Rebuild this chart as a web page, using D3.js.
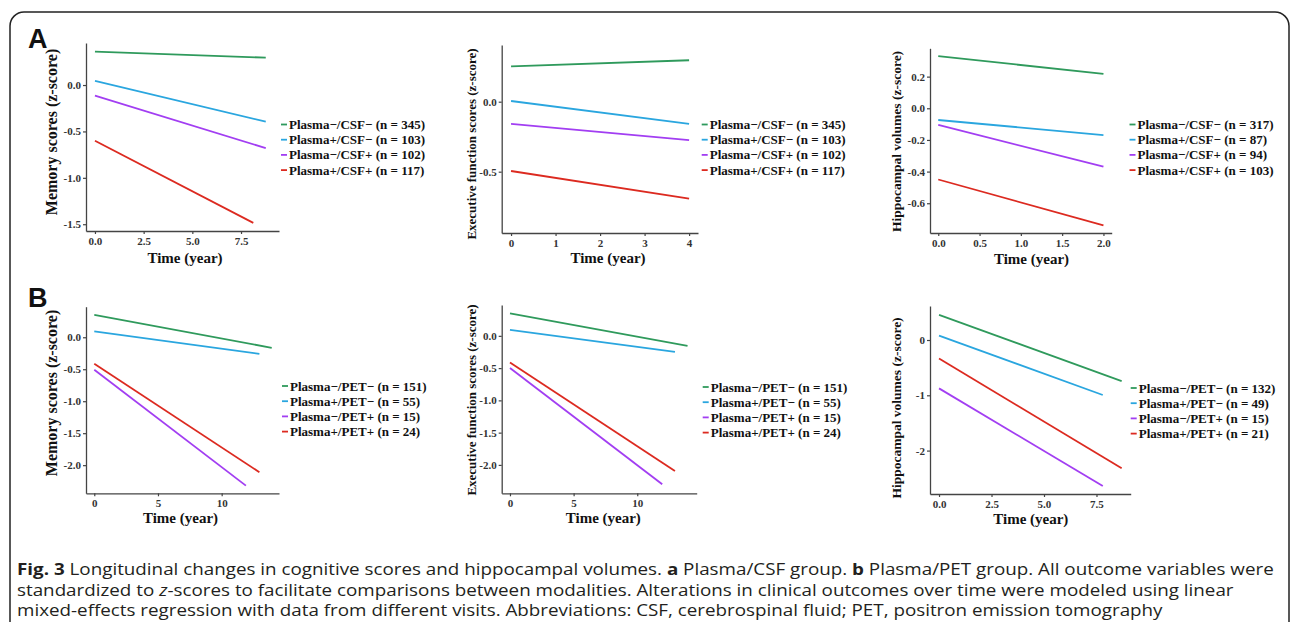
<!DOCTYPE html>
<html>
<head>
<meta charset="utf-8">
<script src="https://cdn.jsdelivr.net/npm/d3@7"></script>
<style>
  body { margin: 0; background: #fff; }
  svg { display: block; }
</style>
</head>
<body>
<svg id="fig" width="1292" height="622"></svg>
<script>
// groups and sample sizes
const groupsCSF = ["Plasma\u2212/CSF\u2212", "Plasma+/CSF\u2212", "Plasma\u2212/CSF+", "Plasma+/CSF+"];
const groupsPET = ["Plasma\u2212/PET\u2212", "Plasma+/PET\u2212", "Plasma\u2212/PET+", "Plasma+/PET+"];
const nCogCSF = [345, 103, 102, 117];
const nHippoCSF = [317, 87, 94, 103];
const nCogPET = [151, 55, 15, 24];
const nHippoPET = [132, 49, 15, 21];

// fitted trajectories, [year, z-score] at baseline and last follow-up
const memoryCSF = [
  [[0, 0.36], [8.77, 0.295]],
  [[0, 0.045], [8.77, -0.395]],
  [[0, -0.115], [8.77, -0.68]],
  [[0, -0.60], [8.13, -1.485]]
];
const execCSF = [
  [[0, 0.253], [4, 0.296]],
  [[0, 0.005], [4, -0.159]],
  [[0, -0.159], [4, -0.274]],
  [[0, -0.495], [4, -0.693]]
];
const hippoCSF = [
  [[0, 0.33], [2, 0.217]],
  [[0, -0.074], [2, -0.169]],
  [[0, -0.105], [2, -0.369]],
  [[0, -0.45], [2, -0.74]]
];
const memoryPET = [
  [[0, 0.349], [13.93, -0.165]],
  [[0, 0.093], [12.96, -0.259]],
  [[0, -0.508], [11.9, -2.32]],
  [[0, -0.414], [12.96, -2.11]]
];
const execPET = [
  [[0, 0.347], [13.95, -0.155]],
  [[0, 0.093], [12.96, -0.248]],
  [[0, -0.497], [11.96, -2.30]],
  [[0, -0.414], [12.96, -2.095]]
];
const hippoPET = [
  [[0, 0.455], [8.7, -0.745]],
  [[0, 0.08], [7.8, -0.995]],
  [[0, -0.875], [7.8, -2.64]],
  [[0, -0.335], [8.7, -2.32]]
];

// tick values
const xTicksMemCSF = [0, 2.5, 5, 7.5];
const yTicksMemCSF = [0, -0.5, -1, -1.5];
const xTicksExecCSF = [0, 1, 2, 3, 4];
const yTicksExecCSF = [0, -0.5];
const xTicksHippoCSF = [0, 0.5, 1, 1.5, 2];
const yTicksHippoCSF = [0.2, 0, -0.2, -0.4, -0.6];
const xTicksPET = [0, 5, 10];
const yTicksPET = [0, -0.5, -1, -1.5, -2];
const xTicksHippoPET = [0, 2.5, 5, 7.5];
const yTicksHippoPET = [0, -1, -2];

const colors = ["#2f9a5c", "#2aa6df", "#a23ef2", "#dc2a20"];
const serif = "'Liberation Serif', 'Times New Roman', serif";

const svg = d3.select("#fig");

// outer frame (bottom edge runs off the picture)
svg.append("rect")
  .attr("x", 10).attr("y", 12)
  .attr("width", 1279).attr("height", 640)
  .attr("rx", 14)
  .attr("fill", "none")
  .attr("stroke", "#222")
  .attr("stroke-width", 1.5);

const panels = [
  { data: memoryCSF, groups: groupsCSF, n: nCogCSF, xt: xTicksMemCSF, yt: yTicksMemCSF, xd: 1, yd: 1,
    box: [86, 279, 43, 231], xDom: [-0.46, 9.45], yDom: [-1.573, 0.453],
    title: "Memory scores (z-score)", tSize: 16, tX: 57, tY: 132, xtX: 185, xtY: 263,
    keyX: 281, legY: 124.5 },
  { data: execCSF, groups: groupsCSF, n: nCogCSF, xt: xTicksExecCSF, yt: yTicksExecCSF, xd: 0, yd: 1,
    box: [501.7, 698, 45, 233], xDom: [-0.21, 4.2], yDom: [-0.938, 0.405],
    title: "Executive function scores (z-score)", tSize: 13, tX: 476, tY: 144, xtX: 608, xtY: 263,
    keyX: 701.7, legY: 124.5 },
  { data: hippoCSF, groups: groupsCSF, n: nHippoCSF, xt: xTicksHippoCSF, yt: yTicksHippoCSF, xd: 1, yd: 1,
    box: [930, 1111.7, 48.3, 233], xDom: [-0.1, 2.1], yDom: [-0.788, 0.379],
    title: "Hippocampal volumes (z-score)", tSize: 13.5, tX: 901, tY: 141.5, xtX: 1031.5, xtY: 264,
    keyX: 1129.5, legY: 124.5 },
  { data: memoryPET, groups: groupsPET, n: nCogPET, xt: xTicksPET, yt: yTicksPET, xd: 0, yd: 1,
    box: [86, 279, 306.7, 493.3], xDom: [-0.65, 14.5], yDom: [-2.44, 0.478],
    title: "Memory scores (z-score)", tSize: 16, tX: 57, tY: 393, xtX: 180.5, xtY: 523,
    keyX: 282, legY: 386 },
  { data: execPET, groups: groupsPET, n: nCogPET, xt: xTicksPET, yt: yTicksPET, xd: 0, yd: 1,
    box: [501.7, 696.7, 305, 493.3], xDom: [-0.65, 14.67], yDom: [-2.44, 0.478],
    title: "Executive function scores (z-score)", tSize: 13, tX: 476, tY: 400, xtX: 603.3, xtY: 523,
    keyX: 702.7, legY: 387 },
  { data: hippoPET, groups: groupsPET, n: nHippoPET, xt: xTicksHippoPET, yt: yTicksHippoPET, xd: 1, yd: 0,
    box: [930, 1130.7, 306, 494], xDom: [-0.43, 9.13], yDom: [-2.785, 0.615],
    title: "Hippocampal volumes (z-score)", tSize: 13.5, tX: 901, tY: 408, xtX: 1030.8, xtY: 524,
    keyX: 1130.7, legY: 388 }
];

function styleAxis(sel) {
  sel.select(".domain").attr("stroke", "#444").attr("stroke-width", 1.3);
  sel.selectAll(".tick line").attr("stroke", "#444").attr("stroke-width", 1.2);
  sel.selectAll(".tick text")
    .attr("fill", "#333")
    .style("font-family", serif)
    .style("font-weight", "bold")
    .style("font-size", "11px");
}

panels.forEach(p => {
  const x = d3.scaleLinear().domain(p.xDom).range([p.box[0], p.box[1]]);
  const y = d3.scaleLinear().domain(p.yDom).range([p.box[3], p.box[2]]);
  const g = svg.append("g");

  g.append("g")
    .attr("transform", `translate(0,${p.box[3]})`)
    .call(d3.axisBottom(x).tickValues(p.xt).tickFormat(d => d.toFixed(p.xd))
      .tickSize(3).tickSizeOuter(0).tickPadding(3))
    .call(styleAxis);

  g.append("g")
    .attr("transform", `translate(${p.box[0]},0)`)
    .call(d3.axisLeft(y).tickValues(p.yt).tickFormat(d => d.toFixed(p.yd))
      .tickSize(3).tickSizeOuter(0).tickPadding(2))
    .call(styleAxis);

  const line = d3.line().x(d => x(d[0])).y(d => y(d[1]));
  g.selectAll("path.fit")
    .data(p.data)
    .join("path")
    .attr("class", "fit")
    .attr("fill", "none")
    .attr("stroke", (d, i) => colors[i])
    .attr("stroke-width", 1.8)
    .attr("d", line);

  g.append("text")
    .attr("transform", `translate(${p.tX},${p.tY}) rotate(-90)`)
    .attr("text-anchor", "middle")
    .style("font-family", serif)
    .style("font-weight", "bold")
    .style("font-size", p.tSize + "px")
    .attr("fill", "#111")
    .text(p.title);

  g.append("text")
    .attr("x", p.xtX).attr("y", p.xtY)
    .attr("text-anchor", "middle")
    .style("font-family", serif)
    .style("font-weight", "bold")
    .style("font-size", "15px")
    .attr("fill", "#111")
    .text("Time (year)");

  const leg = g.append("g");
  p.groups.forEach((name, i) => {
    const ly = p.legY + i * 15.2;
    leg.append("line")
      .attr("x1", p.keyX).attr("x2", p.keyX + 6)
      .attr("y1", ly).attr("y2", ly)
      .attr("stroke", colors[i]).attr("stroke-width", 1.8);
    leg.append("text")
      .attr("x", p.keyX + 8).attr("y", ly + 4.5)
      .style("font-family", serif)
      .style("font-weight", "bold")
      .style("font-size", "13px")
      .attr("fill", "#111")
      .text(`${name} (n = ${p.n[i]})`);
  });
});

// panel letters
[["A", 48.3], ["B", 306.7]].forEach(([t, yy]) => {
  svg.append("text")
    .attr("x", 28).attr("y", yy)
    .style("font-family", "'Liberation Sans', Arial, sans-serif")
    .style("font-weight", "bold")
    .style("font-size", "27px")
    .attr("fill", "#111")
    .text(t);
});

// caption
const caption = [
  [["Fig. 3", "b"], [" Longitudinal changes in cognitive scores and hippocampal volumes. ", ""], ["a", "b"],
   [" Plasma/CSF group. ", ""], ["b", "b"], [" Plasma/PET group. All outcome variables were", ""]],
  [["standardized to ", ""], ["z", "i"], ["-scores to facilitate comparisons between modalities. Alterations in clinical outcomes over time were modeled using linear", ""]],
  [["mixed-effects regression with data from different visits. Abbreviations: CSF, cerebrospinal fluid; PET, positron emission tomography", ""]]
];
const capY = [575, 595.5, 616];
const capLines = caption.map((parts, i) => {
  const t = svg.append("text")
    .attr("x", 0).attr("y", 0)
    .style("font-family", "'Open Sans', 'Noto Sans', sans-serif")
    .style("font-size", "15.5px")
    .attr("fill", "#231f20");
  parts.forEach(([s, f]) => {
    t.append("tspan")
      .style("font-weight", f === "b" ? "bold" : "normal")
      .style("font-style", f === "i" ? "italic" : "normal")
      .text(s);
  });
  return t;
});
const sx = (1275 - 17) / capLines[0].node().getComputedTextLength();
capLines.forEach((t, i) => t.attr("transform", `translate(17,${capY[i]}) scale(${sx},1)`));
</script>
</body>
</html>
